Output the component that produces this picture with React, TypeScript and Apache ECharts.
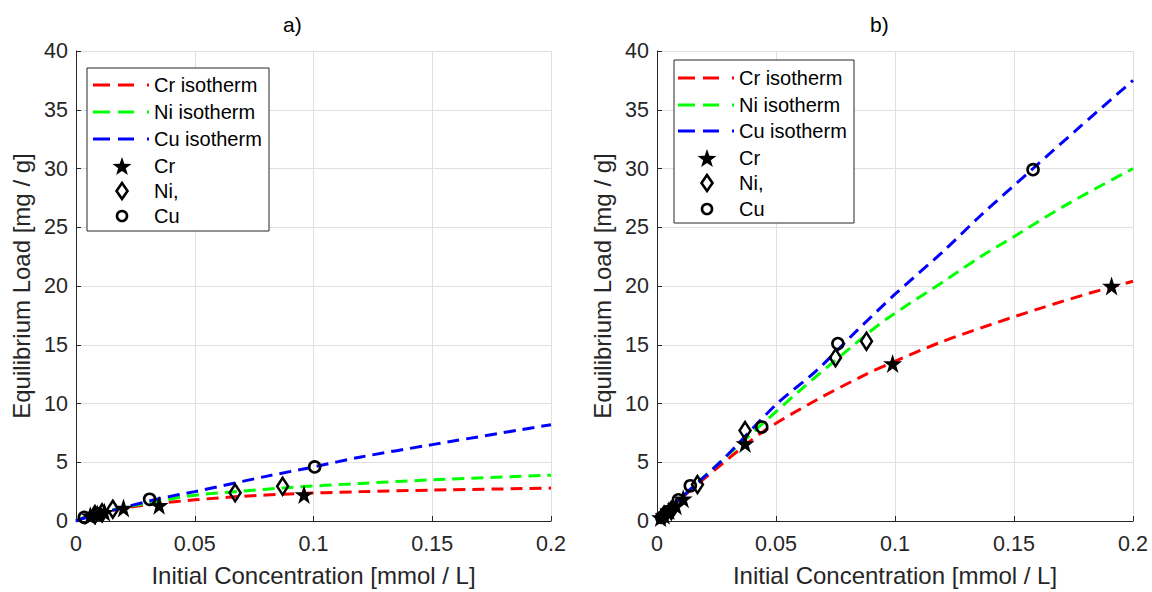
import React, { useEffect, useRef } from "react";
import * as echarts from "echarts";

// ---------- data ----------
const TITLES = ["a)", "b)"];
const X_LABEL = "Initial Concentration [mmol / L]";
const Y_LABEL = "Equilibrium Load [mg / g]";
const LEGEND_LABELS = ["Cr isotherm", "Ni isotherm", "Cu isotherm", "Cr", "Ni,", "Cu"];

// panel a) isotherm curves [conc, load]
const A_CR_CURVE = [[0, 0], [0.005, 0.4], [0.01, 0.68], [0.02, 1.1], [0.035, 1.5], [0.05, 1.8], [0.07, 2.1], [0.09, 2.3], [0.12, 2.5], [0.15, 2.63], [0.2, 2.8]];
const A_NI_CURVE = [[0, 0], [0.005, 0.4], [0.01, 0.7], [0.02, 1.15], [0.035, 1.7], [0.05, 2.2], [0.07, 2.55], [0.09, 2.85], [0.12, 3.2], [0.15, 3.5], [0.2, 3.9]];
const A_CU_CURVE = [[0, 0], [0.005, 0.35], [0.01, 0.62], [0.02, 1.15], [0.035, 1.9], [0.05, 2.5], [0.08, 3.8], [0.1, 4.6], [0.12, 5.45], [0.15, 6.5], [0.2, 8.2]];
// panel a) measured points
const A_CR_POINTS = [[0.006, 0.45], [0.009, 0.6], [0.012, 0.75], [0.02, 1.1], [0.035, 1.35], [0.096, 2.25]];
const A_NI_POINTS = [[0.008, 0.55], [0.011, 0.7], [0.0155, 1.0], [0.067, 2.4], [0.087, 2.95]];
const A_CU_POINTS = [[0.0035, 0.3], [0.0095, 0.6], [0.031, 1.85], [0.1005, 4.6]];

// panel b) isotherm curves
const B_CR_CURVE = [[0, 0], [0.01, 1.9], [0.027, 4.8], [0.0445, 7.6], [0.067, 10.3], [0.088, 12.5], [0.099, 13.5], [0.119, 15.2], [0.14, 16.7], [0.161, 18.1], [0.182, 19.4], [0.2, 20.4]];
const B_NI_CURVE = [[0, 0], [0.01, 1.95], [0.027, 5.1], [0.06, 11.1], [0.084, 15.2], [0.0965, 17.2], [0.122, 20.6], [0.136, 22.5], [0.15, 24.2], [0.171, 26.8], [0.2, 30.0]];
const B_CU_CURVE = [[0, 0], [0.01, 1.95], [0.027, 5.1], [0.05, 9.9], [0.067, 12.8], [0.084, 16.2], [0.1, 19.3], [0.12, 22.9], [0.136, 26.0], [0.158, 30.0], [0.178, 33.6], [0.2, 37.5]];
// panel b) measured points
const B_CR_POINTS = [[0.0015, 0.3], [0.003, 0.5], [0.005, 0.9], [0.008, 1.3], [0.011, 1.9], [0.037, 6.6], [0.099, 13.4], [0.191, 20.0]];
const B_NI_POINTS = [[0.003, 0.5], [0.006, 0.9], [0.017, 3.1], [0.037, 7.7], [0.075, 13.9], [0.088, 15.3]];
const B_CU_POINTS = [[0.002, 0.3], [0.0045, 0.8], [0.009, 1.8], [0.014, 3.0], [0.044, 8.0], [0.076, 15.1], [0.158, 29.9]];

const X_MIN = 0, X_MAX = 0.2, X_STEP = 0.05;
const Y_MIN = 0, Y_MAX = 40, Y_STEP = 5;

// ---------- style ----------
const FONT = "'Liberation Sans', Arial, Helvetica, sans-serif";
const AX = "#262626";
const GRID = "#dfdfdf";
const RED = "#ff0000", GREEN = "#00ff00", BLUE = "#0000ff";
const STAR = "path://M50,0 L61.8,35.1 L98.9,35.1 L68.9,56.8 L80.2,91.9 L50,70.2 L19.8,91.9 L31.1,56.8 L1.1,35.1 L38.2,35.1 Z";

const GRIDS = [
  { left: 76, top: 51, width: 475, height: 474 },
  { left: 657, top: 51, width: 476, height: 474 },
];

function xAxis(i: number) {
  return {
    type: "value", gridIndex: i, min: X_MIN, max: X_MAX, interval: X_STEP,
    name: X_LABEL, nameLocation: "middle", nameGap: 42,
    nameTextStyle: { fontSize: 24, color: AX, fontFamily: FONT },
    axisLine: { onZero: false, lineStyle: { color: AX, width: 1 } },
    axisTick: { show: true, inside: true, length: 5, lineStyle: { color: AX } },
    axisLabel: { fontSize: 21.5, color: AX, fontFamily: FONT, margin: 12 },
    splitLine: { show: true, lineStyle: { color: GRID, width: 1 } },
  };
}
function yAxis(i: number) {
  return {
    type: "value", gridIndex: i, min: Y_MIN, max: Y_MAX, interval: Y_STEP,
    name: Y_LABEL, nameLocation: "middle", nameGap: 43, nameRotate: 90,
    nameTextStyle: { fontSize: 24, color: AX, fontFamily: FONT },
    axisLine: { onZero: false, lineStyle: { color: AX, width: 1 } },
    axisTick: { show: true, inside: true, length: 5, lineStyle: { color: AX } },
    axisLabel: { fontSize: 21.5, color: AX, fontFamily: FONT, margin: 8 },
    splitLine: { show: true, lineStyle: { color: GRID, width: 1 } },
  };
}
function curve(name: string, i: number, data: number[][], color: string) {
  return {
    name, type: "line", xAxisIndex: i, yAxisIndex: i, data, smooth: 0.3,
    symbol: "none", showSymbol: false, z: 2,
    lineStyle: { color, width: 3, type: [12, 7] },
  };
}
function points(name: string, i: number, data: number[][], kind: string) {
  const base: any = { name, type: "scatter", xAxisIndex: i, yAxisIndex: i, data, z: 3 };
  if (kind === "star") {
    base.symbol = STAR; base.symbolSize = 19;
    base.itemStyle = { color: "#000", borderWidth: 0, opacity: 1 };
  } else if (kind === "diamond") {
    base.symbol = "diamond"; base.symbolSize = [11, 17];
    base.itemStyle = { color: "rgba(0,0,0,0)", borderColor: "#000", borderWidth: 2.6, opacity: 1 };
  } else {
    base.symbol = "circle"; base.symbolSize = 11;
    base.itemStyle = { color: "rgba(0,0,0,0)", borderColor: "#000", borderWidth: 2.6, opacity: 1 };
  }
  return base;
}

function starPoints(cx: number, cy: number, ro: number, ri: number) {
  const pts: number[][] = [];
  for (let k = 0; k < 10; k++) {
    const r = k % 2 === 0 ? ro : ri;
    const a = -Math.PI / 2 + (k * Math.PI) / 5;
    pts.push([cx + r * Math.cos(a), cy + r * Math.sin(a)]);
  }
  return pts;
}

function legend(box: { x: number; y: number; w: number; h: number }, rows: number[], lineX: number, markX: number, textX: number) {
  const els: any[] = [];
  els.push({ type: "rect", shape: { x: box.x, y: box.y, width: box.w, height: box.h }, style: { fill: "#fff", stroke: AX, lineWidth: 1 }, silent: true, z: 10 });
  const colors = [RED, GREEN, BLUE];
  for (let k = 0; k < 3; k++) {
    const y = rows[k];
    const st = { stroke: colors[k], lineWidth: 3 };
    els.push({ type: "line", shape: { x1: lineX, y1: y, x2: lineX + 17, y2: y }, style: st, silent: true, z: 11 });
    els.push({ type: "line", shape: { x1: lineX + 25, y1: y, x2: lineX + 41, y2: y }, style: st, silent: true, z: 11 });
    els.push({ type: "line", shape: { x1: lineX + 54, y1: y, x2: lineX + 56, y2: y }, style: st, silent: true, z: 11 });
  }
  els.push({ type: "polygon", shape: { points: starPoints(markX, rows[3] + 1, 10, 4) }, style: { fill: "#000" }, silent: true, z: 11 });
  els.push({ type: "polygon", shape: { points: [[markX, rows[4] - 8], [markX + 5.5, rows[4]], [markX, rows[4] + 8], [markX - 5.5, rows[4]]] }, style: { fill: "none", stroke: "#000", lineWidth: 2.6 }, silent: true, z: 11 });
  els.push({ type: "circle", shape: { cx: markX, cy: rows[5], r: 5 }, style: { fill: "none", stroke: "#000", lineWidth: 2.6 }, silent: true, z: 11 });
  for (let k = 0; k < 6; k++) {
    els.push({ type: "text", x: textX, y: rows[k], style: { text: LEGEND_LABELS[k], fontSize: 20, fontFamily: FONT, fill: "#000", verticalAlign: "middle", align: "left" }, silent: true, z: 11 });
  }
  return els;
}

export default function App() {
  const ref = useRef<HTMLDivElement>(null);
  useEffect(() => {
    if (!ref.current) return;
    const chart = echarts.init(ref.current, null, { renderer: "svg" });
    const option: any = {
      animation: false,
      backgroundColor: "#fff",
      title: [
        { text: TITLES[0], left: 278, top: 9, textStyle: { fontSize: 21, fontWeight: "normal", color: "#000", fontFamily: FONT } },
        { text: TITLES[1], left: 865, top: 9, textStyle: { fontSize: 21, fontWeight: "normal", color: "#000", fontFamily: FONT } },
      ],
      grid: GRIDS,
      xAxis: [xAxis(0), xAxis(1)],
      yAxis: [yAxis(0), yAxis(1)],
      series: [
        curve("Cr isotherm", 0, A_CR_CURVE, RED),
        curve("Ni isotherm", 0, A_NI_CURVE, GREEN),
        curve("Cu isotherm", 0, A_CU_CURVE, BLUE),
        points("Cr", 0, A_CR_POINTS, "star"),
        points("Ni,", 0, A_NI_POINTS, "diamond"),
        points("Cu", 0, A_CU_POINTS, "circle"),
        curve("Cr isotherm", 1, B_CR_CURVE, RED),
        curve("Ni isotherm", 1, B_NI_CURVE, GREEN),
        curve("Cu isotherm", 1, B_CU_CURVE, BLUE),
        points("Cr", 1, B_CR_POINTS, "star"),
        points("Ni,", 1, B_NI_POINTS, "diamond"),
        points("Cu", 1, B_CU_POINTS, "circle"),
      ],
      graphic: [
        ...legend({ x: 87, y: 68, w: 182, h: 163 }, [85, 112, 139, 166, 191, 216], 93, 122, 154),
        ...legend({ x: 674, y: 60, w: 180, h: 163 }, [78, 105, 131, 158, 183, 209], 678, 707, 739),
      ],
    };
    chart.setOption(option);
    return () => chart.dispose();
  }, []);
  return <div ref={ref} style={{ position: "absolute", left: 0, top: 0, width: 1152, height: 592 }} />;
}
